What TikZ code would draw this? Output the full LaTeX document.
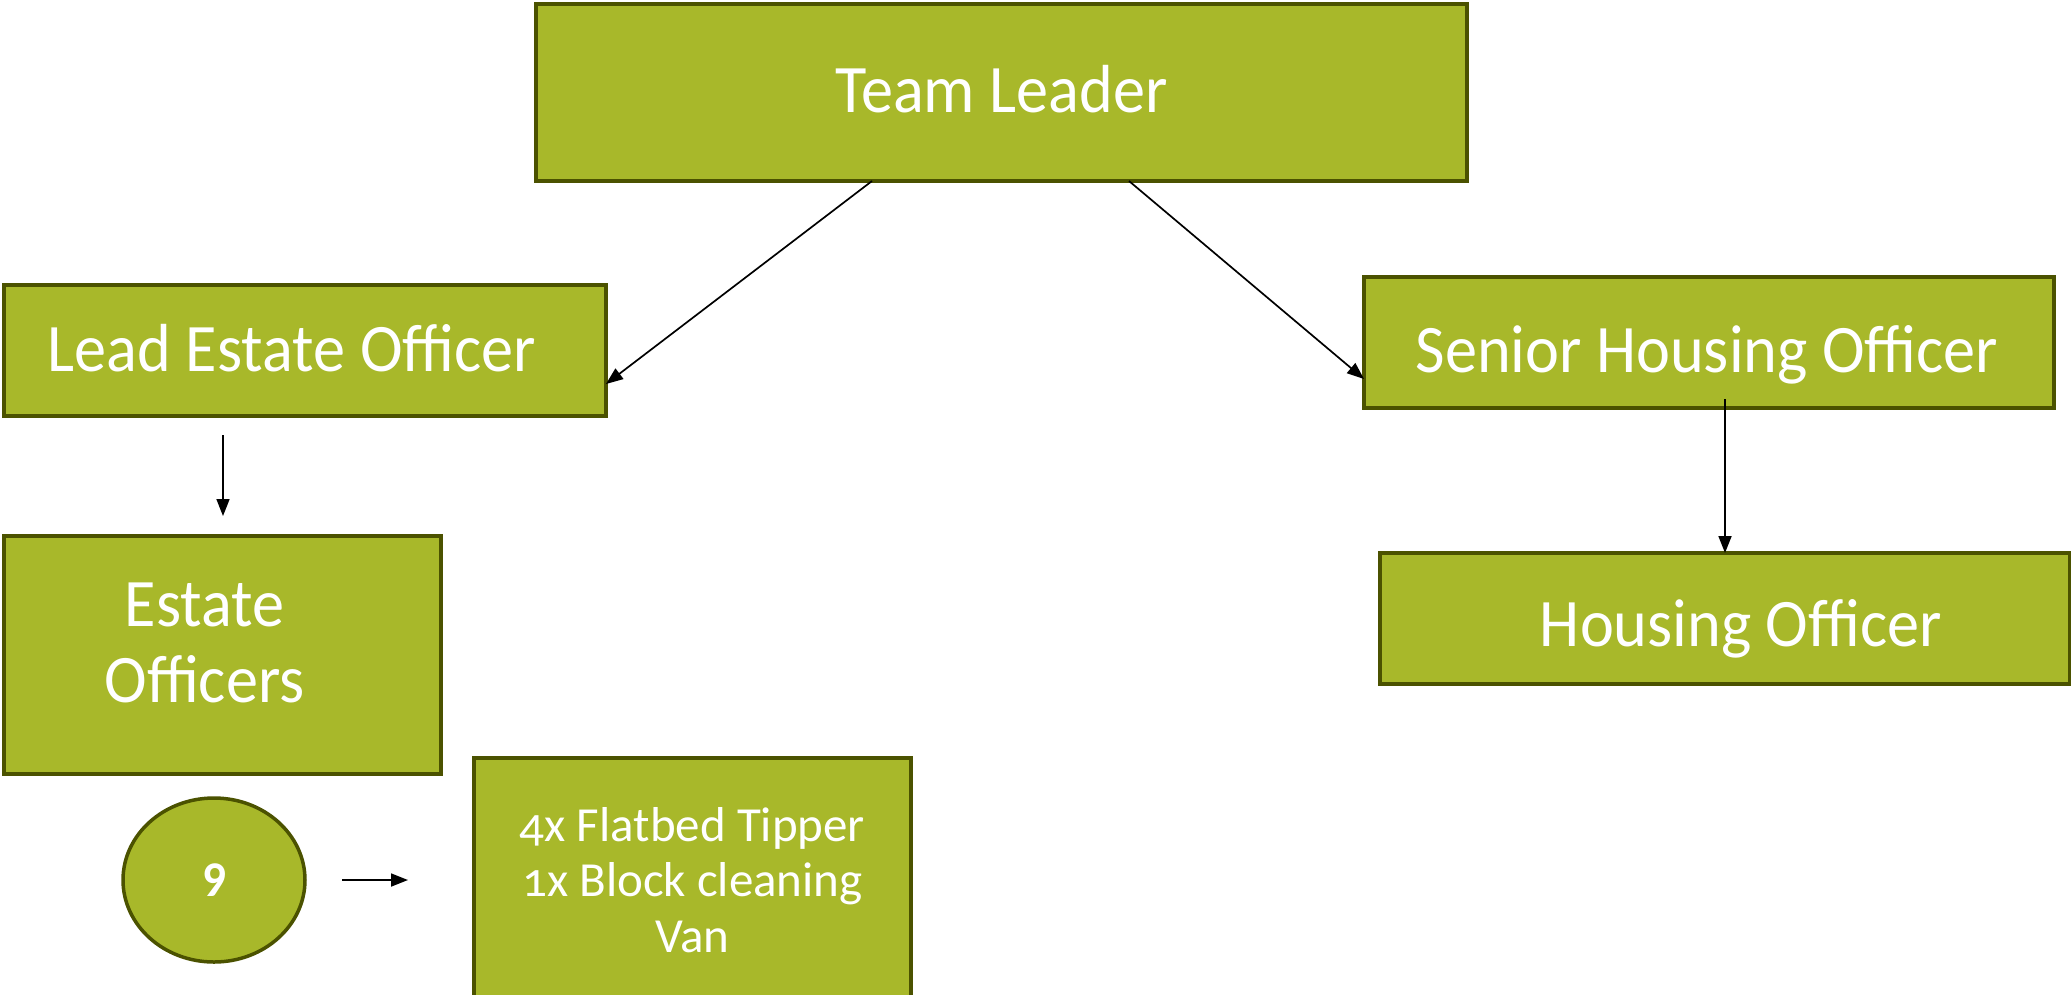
\documentclass[tikz,border=0pt]{standalone}
\usepackage{fontspec}
\setmainfont{Carlito}[FakeStretch=0.945]
\newfontfamily\oldnum[Numbers=OldStyle]{Carlito}
\usetikzlibrary{arrows.meta,shapes.geometric,calc}
\definecolor{boxfill}{HTML}{A8B82A}
\definecolor{boxline}{HTML}{4B5200}
\begin{document}
\begin{tikzpicture}[x=1pt,y=-1pt,
  box/.style={draw=boxline,fill=boxfill,line width=3.5pt,inner sep=0pt,outer sep=0pt,anchor=north west,text=white},
  bigtext/.style={text=white,font=\fontsize{68}{76}\selectfont,align=center},
  vantext/.style={text=white,align=center,font=\oldnum\fontsize{49}{55.5}\selectfont},
  conn/.style={line width=1.7pt,-{Triangle[length=17pt,width=13pt]}}]
\useasboundingbox (0,0) rectangle (2071,994);
\node[box,minimum width=931pt,minimum height=177pt,label={[bigtext,shift={(0,-3)}]center:Team Leader}] (TL) at (536,4) {};
\node[box,minimum width=602pt,minimum height=131pt,label={[bigtext,shift={(-13,-2)}]center:Lead Estate Officer}] (LEO) at (4,285) {};
\node[box,minimum width=690pt,minimum height=131pt,label={[bigtext,shift={(-2,12)}]center:Senior Housing Officer}] (SHO) at (1364,277) {};
\node[box,minimum width=690pt,minimum height=131pt,label={[bigtext,shift={(16,10)}]center:Housing Officer}] (HO) at (1380,553) {};
\node[box,minimum width=437pt,minimum height=238pt,label={[bigtext,shift={(-18,-12)}]center:Estate\\Officers}] (EO) at (4,536) {};
\node[box,minimum width=437pt,minimum height=250pt,label={[vantext,shift={(0,-3)}]center:4x Flatbed Tipper\\1x Block cleaning\\Van}] (V) at (474,758) {};
\node[ellipse,draw=boxline,fill=boxfill,line width=3.5pt,minimum width=182pt,minimum height=164pt,inner sep=0pt,outer sep=0pt,text=white,font=\bfseries\fontsize{50}{56}\selectfont] (C) at (214,880) {9};
\draw[conn] ($(TL.south west)+(336,0)$) -- ($(LEO.south east)+(0,-32)$);
\draw[conn] ($(TL.south west)+(593,0)$) -- ($(SHO.south west)+(0,-29)$);
\draw[conn] ($(LEO.south west)+(219,19)$) -- ($(EO.north west)+(219,-20)$);
\draw[conn] ($(SHO.south west)+(361,-9)$) -- ($(HO.north west)+(345,0)$);
\draw[conn] ($(C.east)+(37,0)$) -- ($(V.north west)+(-66,122)$);
\end{tikzpicture}
\end{document}
